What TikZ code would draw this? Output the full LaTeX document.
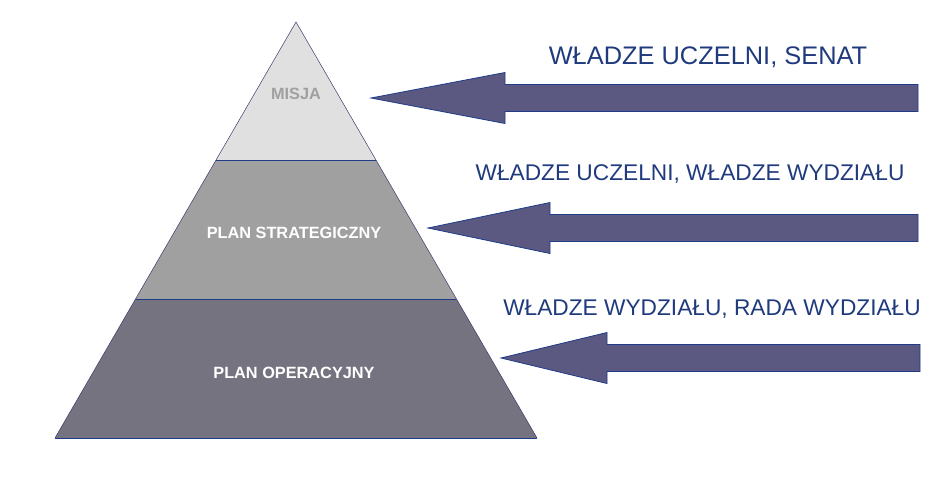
\documentclass[tikz,border=0pt]{standalone}
\usepackage{fontspec}
\setmainfont{Liberation Sans}
\usepackage{xcolor}
\usetikzlibrary{calc}
\definecolor{navy}{RGB}{31,58,125}
\definecolor{arrowfill}{RGB}{91,88,130}
\definecolor{arrowline}{RGB}{30,60,135}
\definecolor{topgrey}{RGB}{224,224,224}
\definecolor{midgrey}{RGB}{160,160,160}
\definecolor{lowgrey}{RGB}{117,115,127}
\definecolor{edge}{RGB}{60,60,110}
\newcommand{\fatarrow}[5]{% name, tip x, centre y, head x, end x
  \draw[bigarrow] (#2,#3) coordinate (#1tip)
    -- (#4,#3-25.5) -- (#4,#3-13.5) -- (#5,#3-13.5)
    -- (#5,#3+13.5) coordinate (#1end) -- (#4,#3+13.5) -- (#4,#3+25.5) -- cycle;}

\begin{document}
\begin{tikzpicture}[x=1pt,y=-1pt,
  layer/.style={draw=edge,line width=0.5pt},
  divider/.style={draw=arrowline,line width=0.9pt},
  bigarrow/.style={fill=arrowfill,draw=arrowline,line width=0.8pt,line join=miter},
  levellabel/.style={font=\bfseries\fontsize{16.3}{18}\selectfont,anchor=base,inner sep=0pt},
  whoLabel/.style={text=navy,anchor=base,inner sep=0pt}]
\useasboundingbox (0,0) rectangle (951,480);

% pyramid corners
\coordinate (apex) at (296,22);
\coordinate (bl) at (55,438);
\coordinate (br) at (537,438);
\coordinate (l1) at ($(apex)!0.3317!(bl)$);
\coordinate (r1) at ($(apex)!0.3317!(br)$);
\coordinate (l2) at ($(apex)!0.6659!(bl)$);
\coordinate (r2) at ($(apex)!0.6659!(br)$);

% layers
\fill[lowgrey] (l2) -- (r2) -- (br) -- (bl) -- cycle;
\fill[midgrey] (l1) -- (r1) -- (r2) -- (l2) -- cycle;
\fill[topgrey] (apex) -- (r1) -- (l1) -- cycle;
\draw[layer] (bl) -- (apex) -- (br);
\draw[divider] (l1) -- (r1);
\draw[divider] (l2) -- (r2);
\draw[divider] (bl) -- (br);

\node[levellabel,text=midgrey] (misja) at (296,99) {MISJA};
\node[levellabel,text=white] (strat) at (294,238) {PLAN STRATEGICZNY};
\node[levellabel,text=white] (oper) at (294,378) {PLAN OPERACYJNY};

% arrows
\fatarrow{a1}{371}{98}{505}{918}
\fatarrow{a2}{428}{228}{550}{918}
\fatarrow{a3}{501}{358}{607}{920}

\node[whoLabel,font=\fontsize{25.4}{30}\selectfont] (senat) at (708,64) {WŁADZE UCZELNI, SENAT};
\node[whoLabel,font=\fontsize{22.7}{27}\selectfont] (uczelnia) at (690,180) {WŁADZE UCZELNI, WŁADZE WYDZIAŁU};
\node[whoLabel,font=\fontsize{22.7}{27}\selectfont] (wydzial) at (712,315) {WŁADZE WYDZIAŁU, RADA WYDZIAŁU};
\end{tikzpicture}
\end{document}
